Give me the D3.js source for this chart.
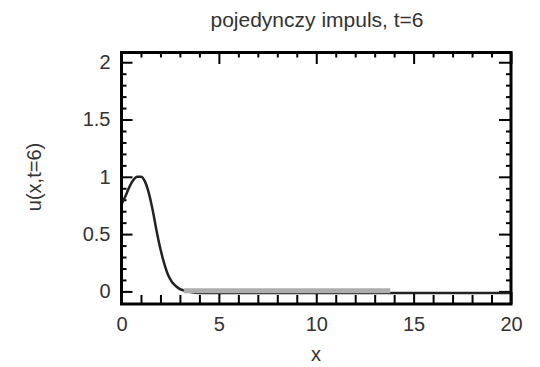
<!DOCTYPE html>
<html>
<head>
<meta charset="utf-8">
<script src="https://cdn.jsdelivr.net/npm/d3@7"></script>
<style>
  body { margin: 0; background: #fff; }
  text { font-family: "Liberation Sans", Arial, sans-serif; fill: #333; }
</style>
</head>
<body>
<figure id="chart" style="margin:0"></figure>
<script>
// values
const xs = [0, 0.2, 0.4, 0.6, 0.8, 1.0, 1.2, 1.4, 1.6, 1.8, 2.0, 2.2, 2.4, 2.6, 2.8, 3.0, 3.3, 3.6, 4, 6, 8, 10, 12, 14, 16, 18, 20];
const us = [0.76, 0.83, 0.91, 0.97, 1.0, 1.0, 0.96, 0.86, 0.71, 0.53, 0.37, 0.24, 0.14, 0.08, 0.045, 0.02, 0.005, -0.008, -0.015, -0.015, -0.015, -0.015, -0.015, -0.015, -0.015, -0.015, -0.015];
const tailX = [3.2, 13.8];
const tailU = [0.005, 0.005];

const xTicks = [0, 5, 10, 15, 20];
const xTickLabels = ['0', '5', '10', '15', '20'];
const yTicks = [0, 0.5, 1, 1.5, 2];
const yTickLabels = ['0', '0.5', '1', '1.5', '2'];

const width = 540;
const height = 367;
const plotLeft = 121.5, plotRight = 511, plotTop = 52.5, plotBottom = 304;

const svg = d3.select('#chart')
  .append('svg')
  .attr('width', width)
  .attr('height', height);

const x = d3.scaleLinear().domain([0, 20]).range([plotLeft, plotRight]);
const y = d3.scaleLinear().domain([-0.11, 2.085]).range([plotBottom, plotTop]);

const xMinor = d3.range(0, 21).filter(v => !xTicks.includes(v));
const yMinor = d3.range(-1, 21).map(v => v / 10).filter(v => !yTicks.includes(v) && v > -0.1 && v < 2.08);

function styleAxis(g) {
  g.select('.domain').remove();
  g.selectAll('.tick line').attr('stroke', '#000').attr('stroke-width', 2);
  g.selectAll('.tick text').attr('font-size', 20).attr('fill', '#333')
    .style('font-family', '"Liberation Sans", Arial, sans-serif');
}

// bottom
svg.append('g').attr('transform', `translate(0,${plotBottom})`)
  .call(d3.axisBottom(x).tickValues(xTicks).tickSize(-12).tickPadding(13)
    .tickFormat((d, i) => xTickLabels[i]))
  .call(styleAxis);
svg.append('g').attr('transform', `translate(0,${plotBottom})`)
  .call(d3.axisBottom(x).tickValues(xMinor).tickSize(-9).tickFormat(''))
  .call(styleAxis);
// top
svg.append('g').attr('transform', `translate(0,${plotTop})`)
  .call(d3.axisTop(x).tickValues(xTicks).tickSize(-11.5).tickFormat(''))
  .call(styleAxis);
svg.append('g').attr('transform', `translate(0,${plotTop})`)
  .call(d3.axisTop(x).tickValues(xMinor).tickSize(-5).tickFormat(''))
  .call(styleAxis);
// left
svg.append('g').attr('transform', `translate(${plotLeft},0)`)
  .call(d3.axisLeft(y).tickValues(yTicks).tickSize(-11).tickPadding(11)
    .tickFormat((d, i) => yTickLabels[i]))
  .call(styleAxis);
svg.append('g').attr('transform', `translate(${plotLeft},0)`)
  .call(d3.axisLeft(y).tickValues(yMinor).tickSize(-5).tickFormat(''))
  .call(styleAxis);
// right
svg.append('g').attr('transform', `translate(${plotRight},0)`)
  .call(d3.axisRight(y).tickValues(yTicks).tickSize(-12).tickFormat(''))
  .call(styleAxis);
svg.append('g').attr('transform', `translate(${plotRight},0)`)
  .call(d3.axisRight(y).tickValues(yMinor).tickSize(-5).tickFormat(''))
  .call(styleAxis);

// curves
const line = d3.line()
  .x(d => x(d[0]))
  .y(d => y(d[1]))
  .curve(d3.curveMonotoneX);

svg.append('path')
  .datum(d3.zip(xs, us))
  .attr('fill', 'none')
  .attr('stroke', '#222')
  .attr('stroke-width', 2.5)
  .attr('d', line);

svg.append('path')
  .datum(d3.zip(tailX, tailU))
  .attr('fill', 'none')
  .attr('stroke', '#adadad')
  .attr('stroke-width', 5)
  .attr('d', line);

// frame
svg.append('rect')
  .attr('x', plotLeft).attr('y', plotTop)
  .attr('width', plotRight - plotLeft).attr('height', plotBottom - plotTop)
  .attr('fill', 'none').attr('stroke', '#000').attr('stroke-width', 3);

// labels
svg.append('text')
  .attr('x', 317).attr('y', 27)
  .attr('text-anchor', 'middle')
  .attr('font-size', 21)
  .text('pojedynczy impuls, t=6');

svg.append('text')
  .attr('x', 316).attr('y', 361)
  .attr('text-anchor', 'middle')
  .attr('font-size', 20)
  .text('x');

svg.append('text')
  .attr('transform', 'translate(34,177) rotate(-90)')
  .attr('text-anchor', 'middle')
  .attr('dy', '0.35em')
  .attr('font-size', 20)
  .text('u(x,t=6)');
</script>
</body>
</html>
